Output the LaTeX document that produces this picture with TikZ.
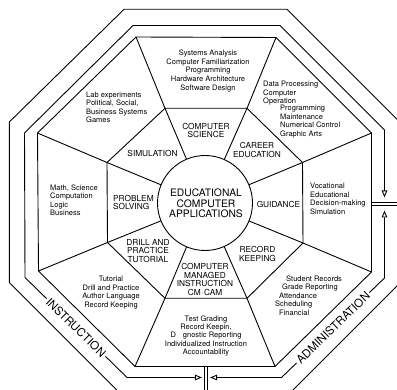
\documentclass[tikz,border=0pt]{standalone}
\usepackage{fontspec}
\setmainfont{TeX Gyre Heros}
\usetikzlibrary{calc,arrows.meta}

\begin{document}
\begin{tikzpicture}[x=1pt,y=-1pt,
  rule/.style={line width=0.9pt},
  divider/.style={line width=0.8pt},
  flow/.style={line width=0.9pt,
    {Triangle[open,length=7pt,width=5.5pt]}-{Triangle[open,length=7pt,width=5.5pt]}},
  detail/.style={font=\fontsize{7.5}{8.5}\selectfont, inner sep=0pt},
  sector/.style={font=\fontsize{8.3}{8.8}\selectfont, inner sep=0pt, align=center},
  hub/.style={font=\fontsize{10.3}{10.6}\selectfont, inner sep=0pt, align=center},
  framelabel/.style={font=\fontsize{11.5}{12}\selectfont, fill=white,
    inner xsep=2pt, inner ysep=1pt, sloped},
]
\useasboundingbox (0,0) rectangle (397,390);
\fill[white] (0,0) rectangle (397,390);
\clip (0,0) rectangle (397,390);

% centre of the wheel
\coordinate (C) at (205,203);

% main octagon
\coordinate (i1) at (136,37);
\coordinate (i2) at (276,37.5);
\coordinate (i3) at (371.5,133);
\coordinate (i4) at (371.5,272);
\coordinate (i5) at (275,366.5);
\coordinate (i6) at (135,366.5);
\coordinate (i7) at (38.5,271);
\coordinate (i8) at (37.5,133);

% middle ring
\coordinate (m1) at (165,108.3);
\coordinate (m2) at (247,108.3);
\coordinate (m3) at (302.5,162.5);
\coordinate (m4) at (303,243);
\coordinate (m5) at (247,298.3);
\coordinate (m6) at (165,298.3);
\coordinate (m7) at (107.5,242.5);
\coordinate (m8) at (107,162.5);

% flow channel
\coordinate (s1) at (133,25.5);
\coordinate (s2) at (280,25.5);
\coordinate (s3) at (384.5,130);
\coordinate (s4) at (384.5,278);
\coordinate (s5) at (281.5,377.5);
\coordinate (s6) at (127,377.5);
\coordinate (s7) at (25,277.5);
\coordinate (s8) at (24.5,133);

% outer border
\coordinate (o1) at (124,9.3);
\coordinate (o2) at (287,9.3);
\coordinate (o3) at (400,122.3);
\coordinate (o4) at (400,283);
\coordinate (o5) at (286,397);
\coordinate (o6) at (123.5,396.8);
\coordinate (o7) at (9.3,282.6);
\coordinate (o8) at (9.3,122);

% arrow ends at the two barriers
\coordinate (rtipT) at (384.5,197.5);
\coordinate (rtipB) at (384.5,210.5);
\coordinate (btipL) at (202,377.5);
\coordinate (btipR) at (210,377.5);

% barriers
\coordinate (ra1) at (371.5,202);   \coordinate (ra2) at (402,202);
\coordinate (rb1) at (371.5,205.5); \coordinate (rb2) at (402,205.5);
\coordinate (ba1) at (204,366.5);   \coordinate (ba2) at (204,402);
\coordinate (bb1) at (207.5,366.5); \coordinate (bb2) at (207.5,402);

% outer border and main octagon
\draw[rule] (o1) -- (o2) -- (o3) -- (o4) -- (o5) -- (o6) -- (o7) -- (o8) -- cycle;
\draw[rule] (i1) -- (i2) -- (i3) -- (i4) -- (i5) -- (i6) -- (i7) -- (i8) -- cycle;
\draw[rule] (m1) -- (m2) -- (m3) -- (m4) -- (m5) -- (m6) -- (m7) -- (m8) -- cycle;

% spokes
\foreach \k in {1,...,8}{
  \draw[rule] (i\k) -- (m\k) -- ($(C)!47.5pt!(m\k)$);
}

% hub
\draw[rule,fill=white] (C) circle (47.5);

% barriers
\draw[divider] (ra1) -- (ra2);
\draw[divider] (rb1) -- (rb2);
\draw[divider] (ba1) -- (ba2);
\draw[divider] (bb1) -- (bb2);

% flows
\draw[flow] (btipL) -- (s6) -- node[framelabel]{INSTRUCTION} (s7) -- (s8) -- (s1)
  -- (s2) -- (s3) -- (rtipT);
\draw[flow] (rtipB) -- (s4) -- node[framelabel]{ADMINISTRATION} (s5) -- (btipR);

% hub text
\node[hub] (hubtext) at (206,203.5) {EDUCATIONAL\\COMPUTER\\APPLICATIONS};

% inner ring labels
\node[sector] (cs)   at (206,130.5) {COMPUTER\\SCIENCE};
\node[sector] (car)  at (257,150)   {CAREER\\EDUCATION};
\node[sector] (gui)  at (278.5,204) {GUIDANCE};
\node[sector] (rec)  at (257.5,254) {RECORD\\KEEPING};
\node[sector] (cmi)  at (205,279.5) {COMPUTER\\MANAGED\\INSTRUCTION\\CM\kern0.5pt$\cdot$\kern0.5pt CAM};
\node[sector] (drl)  at (148,251)   {DRILL AND\\PRACTICE\\TUTORIAL};
\node[sector,align=left,anchor=west] (prb) at (113,202.5) {PROBLEM\\SOLVING};
\node[sector] (sim)  at (152.5,153) {SIMULATION};

% outer ring details
\node[detail,align=center,font=\fontsize{7.5}{8.7}\selectfont] (csd) at (208,71)
  {Systems Analysis\\Computer Familiarization\\Programming\\Hardware Architecture\\Software Design};
\node[detail,align=left,anchor=west] (card1) at (263,93.5)
  {Data Processing\\Computer\\Operation};
\node[detail,align=left,anchor=west] (card2) at (280,121.7)
  {Programming\\Maintenance\\Numerical Control\\Graphic Arts};
\node[detail,align=left,anchor=west] (guid) at (310,198.7)
  {Vocational\\Educational\\Decision-making\\Simulation};
\node[detail,align=left,anchor=west] (recd) at (275,295.6)
  {\hspace*{11pt}Student Records\\\hspace*{7pt}Grade Reporting\\\hspace*{4pt}Attendance\\Scheduling\\\hspace*{4pt}Financial};
\node[detail,align=center,font=\fontsize{7.5}{8.3}\selectfont] (cmid) at (206,336)
  {Test Grading\\Record Keepin,\\D\hspace{7pt}gnostic Reporting\\Individualized Instruction\\Accountability};
\node[detail,align=center] (drld) at (111,292.7)
  {Tutorial\\Drill and Practice\\Author Language\\Record Keeping};
\node[detail,align=left,anchor=west] (prbd) at (50,200.5)
  {Math, Science\\Computation\\Logic\\Business};
\node[detail,align=left,anchor=west] (simd) at (86,107.5)
  {Lab experiments\\Political, Social,\\Business Systems\\Games};
\end{tikzpicture}
\end{document}
